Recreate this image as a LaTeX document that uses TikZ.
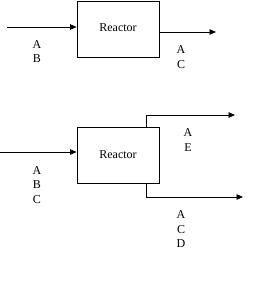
\documentclass[tikz,border=0pt]{standalone}
\usepackage{fontspec}
\setmainfont{Liberation Serif}
\usetikzlibrary{arrows.meta}
\tikzset{
  reactor/.style={rectangle, draw=black, line width=0.8pt, fill=white,
                  minimum width=82pt, minimum height=56pt, inner sep=0pt,
                  font=\fontsize{12}{14.5}\selectfont},
  stream/.style={line width=0.8pt, black, -{Triangle[length=6.5pt,width=5.5pt]}},
  species/.style={align=center, inner sep=0pt, font=\fontsize{12}{14.5}\selectfont},
}
\begin{document}
\begin{tikzpicture}[x=1pt, y=-1pt]
  \useasboundingbox (0,0) rectangle (267,281);
  % single reactor, one outlet
  \node[reactor] (rxone) at (118,29) {};
  \node[species, anchor=base] (nameone) at (118,31) {Reactor};
  \coordinate (feedone) at (7,27);
  \coordinate (outone) at (216,32);
  \draw[stream] (feedone) -- (feedone -| rxone.west);
  \draw[stream] (outone -| rxone.east) -- (outone);
  \node[species] (inone) at (37,51.5) {A\\B};
  \node[species] (prone) at (181,57) {A\\C};
  % reactor with two outlets
  \node[reactor] (rxtwo) at (118,155.5) {};
  \node[species, anchor=base] (nametwo) at (118,158) {Reactor};
  \coordinate (feedtwo) at (0,152);
  \coordinate (toptwo) at (235,115);
  \coordinate (bottwo) at (243,197);
  \coordinate (tapup) at ([xshift=-13pt]rxtwo.north east);
  \coordinate (tapdown) at ([xshift=-13pt]rxtwo.south east);
  \draw[stream] (feedtwo) -- (feedtwo -| rxtwo.west);
  \draw[stream] (tapup) |- (toptwo);
  \draw[stream] (tapdown) |- (bottwo);
  \node[species] (intwo) at (37,185) {A\\B\\C};
  \node[species] (prup) at (188,140) {A\\E};
  \node[species] (prdown) at (181,229.5) {A\\C\\D};
\end{tikzpicture}
\end{document}
